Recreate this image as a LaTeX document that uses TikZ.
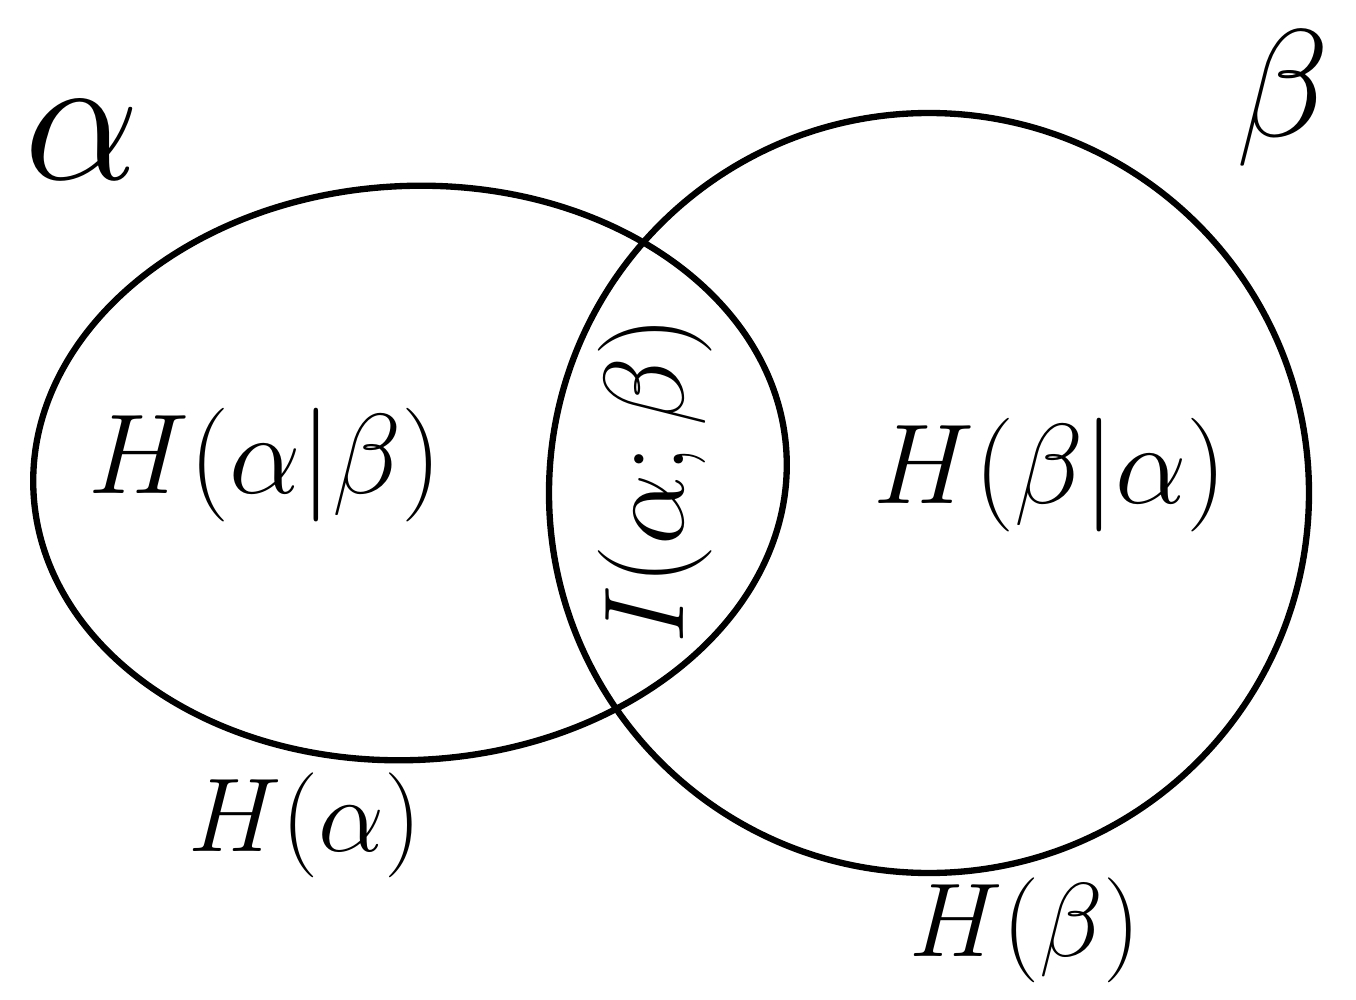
\documentclass[tikz,border=0pt]{standalone}
\begin{document}
\begin{tikzpicture}[x=0.01cm,y=-0.01cm,
  setline/.style={line width=1.8pt},
  lbl/.style={font=\Huge, scale=1.3},
  smlbl/.style={font=\Huge, scale=1.2},
  albl/.style={font=\Huge, scale=2.1},
  blbl/.style={font=\Huge, scale=1.75}]
\useasboundingbox (0,0) rectangle (1356,1000);
\draw[setline] (410,473) ellipse [x radius=377, y radius=287, rotate=3];
\draw[setline] (929,493) circle [radius=380];
\node[albl] (a) at (82,140) {$\alpha$};
\node[blbl] (b) at (1283,98) {$\beta$};
\node[lbl] (hab) at (265,465) {$H(\alpha|\beta)$};
\node[lbl,rotate=90] (iab) at (655,480) {$I(\alpha;\beta)$};
\node[lbl] (hba) at (1050,475) {$H(\beta|\alpha)$};
\node[smlbl] (ha) at (305,825) {$H(\alpha)$};
\node[smlbl] (hb) at (1025,930) {$H(\beta)$};
\end{tikzpicture}
\end{document}
